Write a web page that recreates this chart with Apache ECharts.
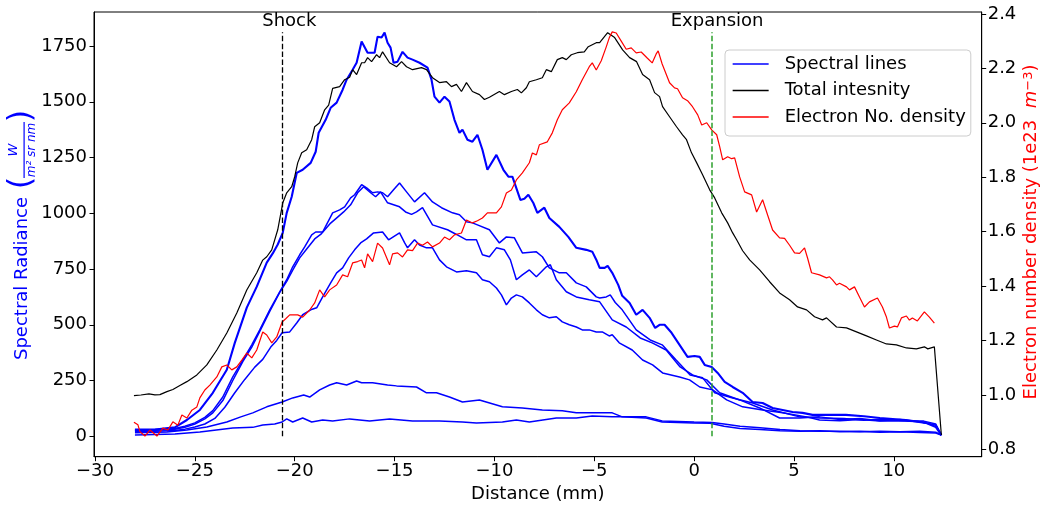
<!DOCTYPE html>
<html>
<head>
<meta charset="utf-8">
<script src="https://cdn.jsdelivr.net/npm/echarts@6/dist/echarts.min.js"></script>
<style>
html,body{margin:0;padding:0;background:#fff;}
#chart{width:1041px;height:505px;}
</style>
</head>
<body>
<div id="chart"></div>
<script>
// ---------- tick labels ----------
const xTicks = [-30, -25, -20, -15, -10, -5, 0, 5, 10];
const leftTicks = [0, 250, 500, 750, 1000, 1250, 1500, 1750];
const rightTicks = [0.8, 1.0, 1.2, 1.4, 1.6, 1.8, 2.0, 2.2, 2.4];

// ---------- annotations ----------
const shockX = -20.63;
const expansionX = 0.88;
const markerTop = 1812;
const annotationTexts = [["Shock", -20.27, 1859], ["Expansion", 1.15, 1859]];

// ---------- legend names ----------
const legendNames = ["Spectral lines", "Total intesnity", "Electron No. density"];

// ---------- Total intensity (left axis) ----------
const totalIntensity = [
[-28.05,182],[-27.7,185],[-27.3,190],[-27.0,186],[-26.75,187],[-26.4,200],[-26.1,210],[-25.75,228],[-25.4,245],
[-24.9,275],[-24.4,320],[-23.9,387],[-23.4,463],[-22.9,553],[-22.4,656],[-21.9,733],[-21.6,790],[-21.4,805],
[-21.15,836],[-20.85,926],[-20.6,1046],[-20.4,1092],[-20.15,1119],[-20.0,1164],[-19.85,1226],[-19.65,1271],
[-19.4,1285],[-19.15,1330],[-19.0,1388],[-18.75,1406],[-18.5,1464],[-18.3,1485],[-18.1,1560],[-17.75,1568],
[-17.5,1599],[-17.25,1610],[-17.1,1644],[-16.9,1622],[-16.65,1675],[-16.5,1675],[-16.35,1698],[-16.15,1680],
[-15.9,1711],[-15.75,1698],[-15.6,1724],[-15.25,1675],[-14.9,1657],[-14.65,1680],[-14.4,1657],[-14.1,1644],
[-13.65,1653],[-13.4,1644],[-13.1,1608],[-12.75,1586],[-12.4,1590],[-12.15,1568],[-11.9,1578],[-11.65,1546],
[-11.4,1586],[-11.1,1546],[-10.75,1532],[-10.5,1510],[-10.25,1520],[-9.75,1546],[-9.5,1532],[-9.15,1546],
[-8.85,1555],[-8.65,1540],[-8.4,1563],[-8.25,1590],[-7.9,1599],[-7.6,1608],[-7.4,1644],[-7.15,1635],
[-6.85,1689],[-6.6,1698],[-6.4,1689],[-6.15,1711],[-5.85,1720],[-5.5,1724],[-5.3,1747],[-4.9,1765],
[-4.73,1765],[-4.33,1810],[-3.98,1788],[-3.58,1733],[-3.23,1698],[-2.88,1680],[-2.58,1622],[-2.23,1599],
[-1.98,1541],[-1.73,1523],[-1.58,1478],[-1.23,1433],[-0.88,1388],[-0.58,1352],[-0.38,1330],[-0.13,1271],
[0.13,1226],[0.43,1172],[0.78,1105],[1.03,1069],[1.38,1002],[1.68,957],[1.93,912],[2.13,881],[2.43,832],
[2.78,791],[3.28,746],[3.78,693],[4.28,643],[4.78,612],[5.18,580],[5.63,567],[6.03,536],[6.43,522],[6.63,531],
[7.13,490],[7.63,486],[8.13,468],[8.63,450],[9.13,432],[9.63,414],[10.13,410],[10.63,396],[11.13,392],
[11.53,401],[11.7,392],[12.03,401],[12.38,6]
];

// ---------- Electron number density (right axis, 1e23 m^-3) ----------
const electronDensity = [
[-28.05,0.90],[-27.85,0.89],[-27.75,0.865],[-27.5,0.849],[-27.25,0.871],[-26.9,0.849],[-26.6,0.878],[-26.35,0.871],
[-26.1,0.901],[-25.85,0.889],[-25.65,0.926],[-25.4,0.915],[-25.15,0.944],[-24.9,0.956],[-24.75,0.989],[-24.5,1.018],
[-24.25,1.036],[-23.9,1.066],[-23.65,1.103],[-23.4,1.110],[-23.15,1.092],[-22.9,1.103],[-22.65,1.128],[-22.4,1.154],
[-22.15,1.136],[-21.9,1.165],[-21.6,1.231],[-21.4,1.220],[-21.15,1.191],[-20.9,1.213],[-20.63,1.268],[-20.45,1.28],
[-20.25,1.294],[-19.85,1.294],[-19.6,1.286],[-19.25,1.312],[-19.0,1.338],[-18.75,1.386],[-18.5,1.360],[-18.25,1.386],
[-17.9,1.404],[-17.6,1.441],[-17.35,1.434],[-17.1,1.485],[-16.85,1.49],[-16.65,1.496],[-16.5,1.467],[-16.35,1.518],
[-16.1,1.49],[-15.85,1.558],[-15.6,1.540],[-15.25,1.478],[-15.1,1.518],[-14.85,1.522],[-14.6,1.507],[-14.35,1.533],
[-14.1,1.53],[-13.85,1.558],[-13.6,1.55],[-13.35,1.562],[-13.1,1.544],[-12.75,1.558],[-12.5,1.580],[-12.25,1.57],
[-12.0,1.588],[-11.65,1.595],[-11.4,1.643],[-11.1,1.632],[-10.85,1.64],[-10.6,1.650],[-10.35,1.669],[-9.9,1.669],
[-9.65,1.691],[-9.4,1.742],[-9.15,1.753],[-8.9,1.790],[-8.6,1.816],[-8.25,1.853],[-8.1,1.889],[-7.9,1.882],
[-7.75,1.919],[-7.35,1.930],[-7.1,1.963],[-6.85,2.011],[-6.6,2.048],[-6.25,2.073],[-5.9,2.114],[-5.6,2.158],
[-5.25,2.206],[-5.1,2.220],[-4.9,2.194],[-4.65,2.228],[-4.4,2.279],[-4.25,2.312],[-4.1,2.334],[-3.9,2.330],
[-3.65,2.30],[-3.4,2.270],[-3.15,2.275],[-2.9,2.257],[-2.65,2.26],[-2.35,2.238],[-2.1,2.220],[-1.9,2.253],
[-1.8,2.264],[-1.6,2.216],[-1.23,2.147],[-0.98,2.128],[-0.83,2.125],[-0.58,2.092],[-0.33,2.081],[-0.08,2.059],
[0.18,2.029],[0.38,1.992],[0.63,2.000],[0.88,1.974],[1.13,1.956],[1.28,1.912],[1.43,1.864],[1.68,1.875],
[1.88,1.868],[2.03,1.871],[2.28,1.801],[2.53,1.746],[2.88,1.735],[3.13,1.672],[3.43,1.717],[3.68,1.661],
[3.93,1.606],[4.28,1.577],[4.53,1.575],[4.78,1.55],[5.03,1.522],[5.28,1.52],[5.53,1.540],[5.68,1.503],
[5.88,1.449],[6.28,1.441],[6.63,1.430],[6.78,1.434],[6.93,1.423],[7.13,1.404],[7.28,1.41],[7.63,1.397],
[7.78,1.386],[8.03,1.397],[8.28,1.360],[8.53,1.323],[8.78,1.342],[9.18,1.356],[9.43,1.323],[9.63,1.286],
[9.78,1.246],[10.03,1.253],[10.18,1.250],[10.38,1.283],[10.63,1.290],[10.78,1.275],[10.93,1.283],[11.18,1.272],
[11.53,1.305],[11.78,1.286],[12.03,1.264]
];

// ---------- Spectral lines (left axis) ----------
const spectralLine1 = [ // strongest line
[-28.0,30],[-27.0,30],[-26.0,40],[-25.4,73],[-24.75,118],[-24.1,195],[-23.4,298],[-23.0,419],[-22.4,577],[-21.9,671],
[-21.4,779],[-21.1,820],[-20.85,860],[-20.6,912],[-20.4,1002],[-20.15,1074],[-19.9,1181],[-19.6,1195],[-19.2,1226],
[-18.95,1276],[-18.8,1361],[-18.45,1419],[-18.2,1473],[-17.9,1496],[-17.6,1554],[-17.4,1599],[-17.1,1644],[-16.9,1675],
[-16.65,1770],[-16.35,1720],[-16.0,1720],[-15.85,1792],[-15.65,1788],[-15.5,1810],[-15.35,1765],[-15.2,1743],
[-15.05,1675],[-14.85,1680],[-14.6,1724],[-14.35,1698],[-14.1,1689],[-13.75,1675],[-13.35,1653],[-13.15,1599],
[-13.0,1523],[-12.75,1496],[-12.5,1523],[-12.25,1501],[-12.0,1419],[-11.75,1361],[-11.6,1375],[-11.35,1330],
[-11.1,1321],[-10.85,1352],[-10.6,1285],[-10.35,1195],[-9.9,1262],[-9.55,1195],[-9.3,1164],[-9.1,1164],[-8.7,1060],
[-8.5,1065],[-8.3,1083],[-8.05,1046],[-7.85,1002],[-7.5,1025],[-7.25,979],[-6.75,939],[-6.3,894],[-5.9,845],
[-5.4,836],[-5.1,828],[-4.9,792],[-4.73,755],[-4.48,755],[-4.33,764],[-4.1,733],[-3.8,679],[-3.6,630],[-3.23,598],
[-2.9,545],[-2.58,567],[-2.23,531],[-1.95,486],[-1.73,500],[-1.48,500],[-1.13,464],[-0.73,410],[-0.33,356],[0.02,360],
[0.28,356],[0.53,320],[0.88,311],[1.18,284],[1.53,244],[1.93,221],[2.43,195],[2.93,154],[3.43,149],[3.93,127],
[4.43,118],[4.93,109],[5.43,105],[5.93,96],[6.5,96],[7.6,96],[8.5,90],[9.3,82],[10.6,73],[11.6,60],[12.1,42],[12.38,5]
];
const spectralLine2 = [
[-28.0,28],[-27.0,30],[-26.0,35],[-25.5,45],[-25.0,60],[-24.5,85],[-24.1,115],[-23.6,176],[-23.1,266],[-22.6,342],
[-22.15,410],[-21.75,477],[-21.25,567],[-20.75,648],[-20.4,702],[-20.1,760],[-19.75,814],[-19.5,849],[-19.15,903],
[-18.95,916],[-18.6,916],[-18.4,950],[-18.1,1002],[-17.75,1015],[-17.5,1029],[-17.2,1069],[-17.0,1083],[-16.65,1128],
[-16.4,1114],[-16.1,1092],[-15.85,1096],[-15.6,1092],[-15.35,1074],[-15.05,1105],[-14.75,1136],[-14.4,1096],
[-14.0,1051],[-13.5,1092],[-13.1,1051],[-12.65,1025],[-12.1,1002],[-11.75,993],[-11.4,962],[-11.1,957],[-10.85,948],
[-10.25,926],[-9.75,867],[-9.4,894],[-9.0,890],[-8.6,822],[-7.9,827],[-7.6,805],[-7.25,755],[-6.75,733],[-6.4,733],
[-5.9,688],[-5.4,670],[-4.9,625],[-4.73,620],[-4.4,625],[-4.2,634],[-3.95,600],[-3.6,567],[-2.9,477],[-2.2,432],
[-1.6,410],[-0.9,342],[-0.2,275],[0.43,262],[1.03,195],[1.93,172],[2.93,149],[3.93,118],[5.28,87],[6.28,82],
[7.5,80],[8.5,72],[9.5,78],[10.5,70],[11.5,68],[12.1,55],[12.38,5]
];
const spectralLine3 = [
[-28.0,25],[-27.0,27],[-26.0,32],[-25.5,40],[-25.0,55],[-24.5,78],[-24.1,105],[-23.6,160],[-23.1,250],[-22.6,335],
[-22.15,400],[-21.75,470],[-21.25,560],[-20.75,645],[-20.4,695],[-20.1,745],[-19.75,800],[-19.4,840],[-19.0,885],
[-18.7,905],[-18.2,956],[-17.85,983],[-17.55,1006],[-17.2,1038],[-16.85,1092],[-16.55,1119],[-16.2,1092],[-15.95,1074],
[-15.7,1096],[-15.35,1047],[-15.05,1038],[-14.75,1029],[-14.45,1006],[-14.15,995],[-13.9,1006],[-13.6,1025],
[-13.1,948],[-12.35,926],[-11.9,905],[-11.4,881],[-10.9,881],[-10.6,814],[-10.25,805],[-9.9,845],[-9.5,836],
[-9.2,791],[-8.9,702],[-8.6,724],[-8.25,746],[-7.9,715],[-7.4,760],[-7.2,769],[-6.9,702],[-6.4,648],[-5.9,625],
[-5.25,612],[-4.73,603],[-4.1,522],[-3.4,490],[-2.7,441],[-2.1,419],[-1.4,387],[-0.7,311],[-0.08,275],[0.63,253],
[1.28,195],[2.28,163],[3.28,127],[4.28,82],[5.28,82],[6.28,87],[7.3,75],[8.3,80],[9.3,70],[10.3,75],[11.3,65],
[12.1,50],[12.38,5]
];
const spectralLine4 = [
[-28.0,20],[-27.0,22],[-26.0,26],[-25.5,32],[-25.0,42],[-24.5,55],[-24.0,80],[-23.5,130],[-23.0,195],[-22.5,255],
[-22.0,310],[-21.6,345],[-21.2,400],[-20.9,430],[-20.63,464],[-20.25,468],[-19.9,508],[-19.6,545],[-19.2,567],
[-18.9,576],[-18.6,625],[-18.2,688],[-17.9,733],[-17.6,755],[-17.3,800],[-17.0,836],[-16.7,867],[-16.4,885],
[-16.05,912],[-15.6,916],[-15.3,881],[-14.75,912],[-14.5,868],[-14.35,845],[-14.0,881],[-13.75,858],[-13.4,845],
[-13.1,845],[-12.75,791],[-12.4,760],[-11.9,737],[-11.4,742],[-10.9,733],[-10.6,702],[-10.25,693],[-9.9,665],
[-9.65,634],[-9.4,589],[-9.15,620],[-8.9,634],[-8.6,625],[-8.25,598],[-7.9,567],[-7.6,545],[-7.25,531],[-6.9,536],
[-6.6,513],[-6.25,500],[-5.9,490],[-5.6,477],[-5.25,477],[-4.9,468],[-4.6,468],[-4.25,450],[-4.1,455],[-3.75,419],
[-3.1,387],[-2.58,342],[-2.08,320],[-1.58,284],[-0.73,266],[-0.23,253],[0.28,221],[0.93,208],[1.63,163],[2.43,132],
[3.43,118],[4.43,105],[5.63,87],[6.28,73],[7.3,70],[8.3,75],[9.3,68],[10.3,70],[11.3,65],[12.1,50],[12.38,5]
];
const spectralLine5 = [
[-28.0,16],[-26.4,19],[-25.4,28],[-24.4,42],[-23.4,64],[-22.7,87],[-22.1,105],[-21.4,132],[-20.63,154],[-20.1,172],
[-19.55,185],[-19.25,176],[-18.75,208],[-18.25,230],[-17.9,240],[-17.4,230],[-16.9,248],[-16.65,240],[-16.1,240],
[-15.35,230],[-14.9,226],[-13.9,221],[-13.4,195],[-12.9,195],[-12.25,176],[-11.6,154],[-10.75,163],[-9.6,132],
[-8.6,127],[-7.6,118],[-6.6,114],[-5.9,105],[-4.9,105],[-4.1,105],[-3.6,87],[-2.4,82],[-1.6,64],[0.0,60],[0.8,58],
[1.5,45],[2.3,35],[3.3,30],[4.3,25],[5.3,22],[6.3,25],[7.3,20],[8.3,22],[9.3,18],[10.3,20],[11.3,17],[12.1,15],[12.38,5]
];
const spectralLine6 = [
[-28.0,6],[-26.0,10],[-24.75,19],[-23.1,37],[-22.1,40],[-21.6,51],[-21.0,55],[-20.63,64],[-20.4,78],[-20.1,64],
[-19.6,82],[-19.15,64],[-18.6,73],[-18.1,69],[-17.25,78],[-16.25,69],[-15.25,78],[-14.1,69],[-12.75,69],[-11.6,64],
[-10.9,60],[-9.6,64],[-8.9,73],[-8.25,64],[-6.9,82],[-5.9,82],[-5.1,91],[-4.1,87],[-2.4,87],[-1.6,69],[0.0,64],
[0.9,62],[1.5,55],[2.3,45],[3.3,38],[4.3,30],[5.3,25],[6.3,22],[7.3,22],[8.3,20],[9.3,22],[10.3,20],[11.3,22],
[12.1,18],[12.38,5]
];

// ---------- build chart ----------
const FONT = 'DejaVu Sans';
const BLUE = '#0000ff', RED = '#ff0000', BLACK = '#000000', GREEN = '#2ca02c';
const minusFmt = v => (v < 0 ? '\u2212' + Math.abs(v) : String(v));

const spectral = [spectralLine2, spectralLine1, spectralLine3, spectralLine4, spectralLine5, spectralLine6];
const series = spectral.map((d) => ({
  name: legendNames[0], type: 'line', data: d, yAxisIndex: 0, symbol: 'none', showSymbol: false,
  lineStyle: { color: BLUE, width: d === spectralLine1 ? 2.1 : 1.5 }, itemStyle: { color: BLUE },
  silent: true, z: 2
}));
series.push({
  name: legendNames[1], type: 'line', data: totalIntensity, yAxisIndex: 0, symbol: 'none', showSymbol: false,
  lineStyle: { color: BLACK, width: 1.2 }, itemStyle: { color: BLACK }, silent: true, z: 3,
  markLine: {
    silent: true, symbol: 'none', label: { show: false }, animation: false,
    data: [
      [{ coord: [shockX, 0], lineStyle: { color: BLACK, width: 1.3, type: [5.5, 2.4] } }, { coord: [shockX, markerTop] }],
      [{ coord: [expansionX, 0], lineStyle: { color: GREEN, width: 1.5, type: [5.5, 2.4] } }, { coord: [expansionX, markerTop] }]
    ]
  },
  markPoint: {
    silent: true, symbol: 'circle', symbolSize: 1, itemStyle: { color: 'rgba(0,0,0,0)' }, animation: false,
    label: { show: true, position: 'inside', fontFamily: FONT, fontSize: 18, color: BLACK, formatter: p => p.name },
    data: annotationTexts.map(a => ({ name: a[0], coord: [a[1], a[2]] }))
  }
});
series.push({
  name: legendNames[2], type: 'line', data: electronDensity, yAxisIndex: 1, symbol: 'none', showSymbol: false,
  lineStyle: { color: RED, width: 1.2 }, itemStyle: { color: RED }, silent: true, z: 4
});

const axisCommon = {
  axisLine: { show: true, onZero: false, lineStyle: { color: BLACK, width: 1 } },
  splitLine: { show: false }
};

const option = {
  animation: false,
  backgroundColor: '#ffffff',
  grid: { left: 94, right: 59.3, top: 12, bottom: 48.3, show: true, borderColor: BLACK, borderWidth: 1,
          containLabel: false, outerBoundsMode: 'none' },
  legend: {
    data: legendNames, orient: 'vertical', left: 725, top: 50,
    itemWidth: 36, itemHeight: 20, itemGap: 6.5,
    padding: [4, 5, 9, 7],
    backgroundColor: 'rgba(255,255,255,0.8)', borderColor: '#cccccc', borderWidth: 1, borderRadius: 4,
    itemStyle: { color: 'rgba(0,0,0,0)', borderWidth: 0, opacity: 0 },
    lineStyle: { width: 1.3 },
    textStyle: { fontFamily: FONT, fontSize: 18, color: BLACK, padding: [0, 0, 0, 11], lineHeight: 20 },
    selectedMode: false
  },
  xAxis: Object.assign({
    type: 'value', min: -30.05, max: 14.4,
    axisTick: { show: true, length: 4.5, customValues: xTicks, lineStyle: { color: BLACK } },
    axisLabel: { customValues: xTicks, formatter: minusFmt, fontFamily: FONT, fontSize: 18, color: BLACK, margin: 6 },
    name: 'Distance (mm)', nameLocation: 'middle', nameGap: 24,
    nameTextStyle: { fontFamily: FONT, fontSize: 18, color: BLACK }
  }, axisCommon),
  yAxis: [
    Object.assign({
      type: 'value', position: 'left', min: -91.6, max: 1902.6,
      axisTick: { show: true, length: 4.5, customValues: leftTicks, lineStyle: { color: BLACK } },
      axisLabel: { customValues: leftTicks, formatter: v => String(v), fontFamily: FONT, fontSize: 18, color: BLACK, margin: 7 }
    }, axisCommon),
    Object.assign({
      type: 'value', position: 'right', min: 0.773, max: 2.407,
      axisTick: { show: true, length: 4.5, customValues: rightTicks, lineStyle: { color: BLACK } },
      axisLabel: { customValues: rightTicks, formatter: v => v.toFixed(1), fontFamily: FONT, fontSize: 18, color: BLACK, margin: 6 }
    }, axisCommon)
  ],
  graphic: [
    {
      type: 'group', x: 22, y: 236, rotation: Math.PI / 2, silent: true,
      children: [
        { type: 'text', x: -124, y: 0, style: { text: 'Spectral Radiance', fontFamily: FONT, fontSize: 18, fill: BLUE, align: 'left', verticalAlign: 'middle' } },
        { type: 'text', x: 53, y: 0, style: { text: '(', fontFamily: FONT, fontSize: 32, fill: BLUE, align: 'center', verticalAlign: 'middle' } },
        { type: 'text', x: 86, y: -8, style: { text: 'W', fontFamily: FONT, fontSize: 13, fontStyle: 'italic', fill: BLUE, align: 'center', verticalAlign: 'middle' } },
        { type: 'rect', shape: { x: 58, y: 1.5, width: 56, height: 1.2 }, style: { fill: BLUE } },
        { type: 'text', x: 86, y: 10, style: { text: 'm\u00b2 sr nm', fontFamily: FONT, fontSize: 12, fontStyle: 'italic', fill: BLUE, align: 'center', verticalAlign: 'middle' } },
        { type: 'text', x: 120, y: 0, style: { text: ')', fontFamily: FONT, fontSize: 32, fill: BLUE, align: 'center', verticalAlign: 'middle' } }
      ]
    },
    {
      type: 'text', x: 1031, y: 232, rotation: Math.PI / 2, silent: true,
      style: {
        text: 'Electron number density (1e23  {m|m}{s|\u22123}{p|)}',
        fontFamily: FONT, fontSize: 18, fill: RED, align: 'center', verticalAlign: 'middle',
        rich: {
          m: { fontFamily: FONT, fontSize: 18, fontStyle: 'italic', fill: RED },
          s: { fontFamily: FONT, fontSize: 13, fill: RED, verticalAlign: 'top' },
          p: { fontFamily: FONT, fontSize: 18, fill: RED }
        }
      }
    }
  ],
  series: series
};

const chart = echarts.init(document.getElementById('chart'), null, { renderer: 'canvas' });
chart.setOption(option);
</script>
</body>
</html>
